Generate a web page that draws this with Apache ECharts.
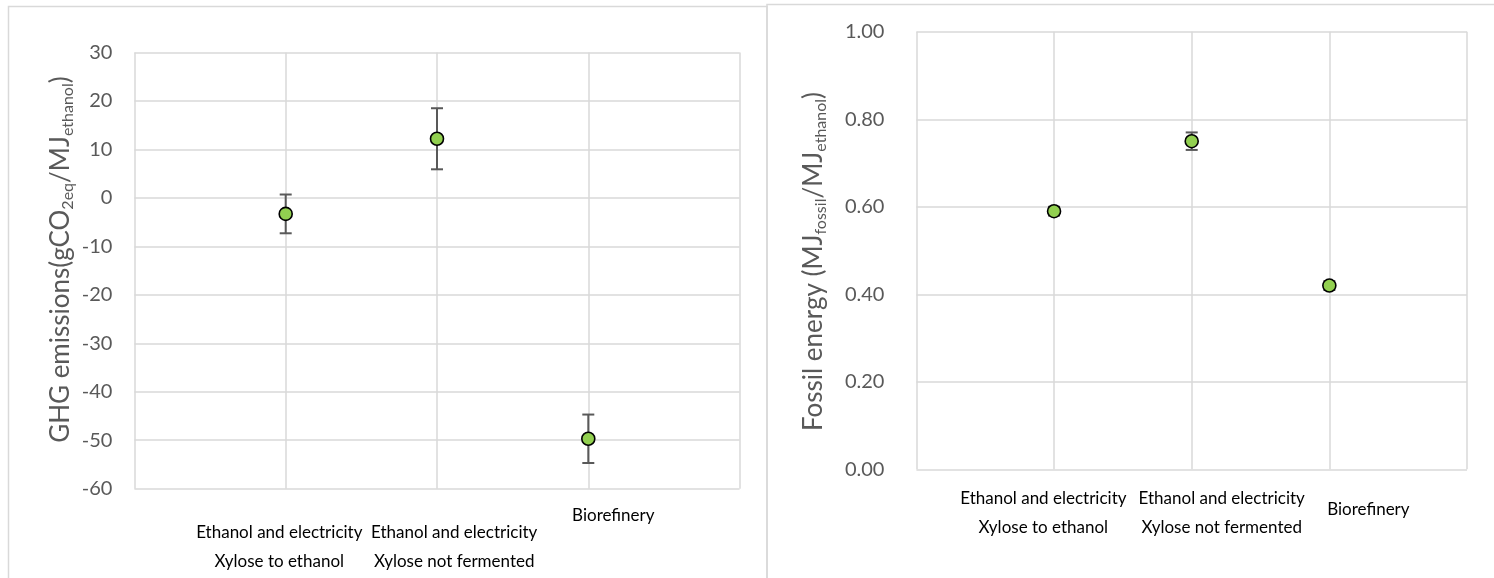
<!DOCTYPE html>
<html>
<head>
<meta charset="utf-8">
<script src="https://cdn.jsdelivr.net/npm/echarts@6/dist/echarts.min.js"></script>
<style>
  html, body { margin: 0; padding: 0; background: #ffffff; }
  #chart { width: 1494px; height: 578px; }
</style>
</head>
<body>
<div id="chart"></div>
<script>
// Scenario names (two-line names use "\n")
const categories = [
  'Ethanol and electricity\nXylose to ethanol',
  'Ethanol and electricity\nXylose not fermented',
  'Biorefinery'
];
// Position of each scenario on the horizontal 0..4 scale
const categoryX = [1, 2, 3];

// GHG emissions, gCO2eq per MJ ethanol, with error half-widths
const ghgValues = [-3.3, 12.2, -49.7];
const ghgErrors = [4.0, 6.3, 5.0];

// Fossil energy use, MJ fossil per MJ ethanol, with error half-widths
const fossilValues = [0.59, 0.75, 0.42];
const fossilErrors = [0.01, 0.02, 0.01];

// Y scale ranges
const ghgRange = { min: -60, max: 30, step: 10 };
const fossilRange = { min: 0, max: 1, step: 0.2 };

const FONT = 'Lato, "Open Sans", sans-serif';
const GRID = '#d9d9d9';
const TICK = '#595959';
const CAT_SIZE = 17;

// Label text box styles per panel: horizontal nudge (dx), line height,
// and an optional blank leading line to push a label further down.
const labelLook = [
  { lh: 28.4, items: [ { dx: -6.4, lead: 17 }, { dx: 17.2, lead: 17 }, { dx: 25, lead: 0 } ] },
  { lh: 29,   items: [ { dx: -10.7, lead: 0 }, { dx: 30, lead: 0 }, { dx: 39, lead: 10.5 } ] }
];

function makeRich(panel) {
  const look = labelLook[panel];
  const rich = {};
  look.items.forEach((it, i) => {
    const pad = it.dx >= 0 ? [0, 0, 0, 2 * it.dx] : [0, -2 * it.dx, 0, 0];
    rich['c' + i] = { fontSize: CAT_SIZE, lineHeight: look.lh, padding: pad, fontFamily: FONT, color: '#000' };
    rich['g' + i] = { fontSize: 4, lineHeight: Math.max(it.lead, 0.1), fontFamily: FONT, color: 'rgba(0,0,0,0)' };
  });
  return rich;
}

function makeFormatter(panel) {
  return function (value) {
    const i = categoryX.indexOf(value);
    if (i < 0) return '';
    const it = labelLook[panel].items[i];
    const body = categories[i].split('\n').map(s => '{c' + i + '|' + s + '}').join('\n');
    return it.lead > 0 ? '{g' + i + '| }\n' + body : body;
  };
}

function xAxisFor(panel, margin) {
  return {
    type: 'value', gridIndex: panel, min: 0, max: 4, interval: 1,
    axisLine: { show: false }, axisTick: { show: false },
    splitLine: { show: true, lineStyle: { color: GRID, width: 1.5 } },
    axisLabel: {
      margin, formatter: makeFormatter(panel), color: '#000', fontFamily: FONT,
      fontSize: CAT_SIZE, rich: makeRich(panel)
    }
  };
}

function nameRich() {
  return {
    m: { fontSize: 26, lineHeight: 30, fontFamily: FONT, color: TICK, verticalAlign: 'middle' },
    s: { fontSize: 16, lineHeight: 14, fontFamily: FONT, color: TICK, verticalAlign: 'bottom' },
    p: { width: 22, lineHeight: 30 }
  };
}

function errorBars(axisIndex, values, errors) {
  return {
    type: 'custom', xAxisIndex: axisIndex, yAxisIndex: axisIndex, z: 3, silent: true,
    data: categoryX.map((x, i) => [x, values[i] - errors[i], values[i] + errors[i]]),
    encode: { x: 0, y: [1, 2] },
    renderItem: function (params, api) {
      const lo = api.coord([api.value(0), api.value(1)]);
      const hi = api.coord([api.value(0), api.value(2)]);
      const hw = 6;
      const style = { stroke: '#595959', lineWidth: 2 };
      return {
        type: 'group',
        children: [
          { type: 'line', shape: { x1: lo[0], y1: lo[1], x2: hi[0], y2: hi[1] }, style },
          { type: 'line', shape: { x1: lo[0] - hw, y1: lo[1], x2: lo[0] + hw, y2: lo[1] }, style },
          { type: 'line', shape: { x1: hi[0] - hw, y1: hi[1], x2: hi[0] + hw, y2: hi[1] }, style }
        ]
      };
    }
  };
}

function points(axisIndex, values) {
  return {
    type: 'scatter', xAxisIndex: axisIndex, yAxisIndex: axisIndex, z: 5, silent: true,
    symbol: 'circle', symbolSize: 13,
    itemStyle: { color: '#92D050', borderColor: '#000', borderWidth: 1.6, opacity: 1 },
    data: categoryX.map((x, i) => [x, values[i]])
  };
}

const chart = echarts.init(document.getElementById('chart'), null, { renderer: 'canvas' });

chart.setOption({
  animation: false,
  backgroundColor: '#ffffff',
  graphic: [
    { type: 'rect', shape: { x: 8.5, y: 6.5, width: 758.5, height: 620 },
      style: { fill: 'none', stroke: GRID, lineWidth: 1.5 }, silent: true },
    { type: 'rect', shape: { x: 767, y: 4.5, width: 760, height: 620 },
      style: { fill: 'none', stroke: GRID, lineWidth: 1.5 }, silent: true }
  ],
  grid: [
    { left: 134.4, top: 52.5, width: 605.2, height: 436.2 },
    { left: 916.4, top: 31.8, width: 550.6, height: 437.5 }
  ],
  xAxis: [ xAxisFor(0, 13), xAxisFor(1, 15) ],
  yAxis: [
    {
      type: 'value', gridIndex: 0, min: ghgRange.min, max: ghgRange.max, interval: ghgRange.step,
      axisLine: { show: false }, axisTick: { show: false },
      splitLine: { show: true, lineStyle: { color: GRID, width: 1.5 } },
      axisLabel: { margin: 22, color: TICK, fontFamily: FONT, fontSize: 20 },
      // leading spacer lifts the title slightly above the plot centre
      name: '{p|}{m|GHG emissions(gCO}{s|2eq}{m|/MJ}{s|ethanol}{m|)}',
      nameLocation: 'middle', nameRotate: 90, nameGap: 59,
      nameTextStyle: { rich: nameRich() }
    },
    {
      type: 'value', gridIndex: 1, min: fossilRange.min, max: fossilRange.max, interval: fossilRange.step,
      axisLine: { show: false }, axisTick: { show: false },
      splitLine: { show: true, lineStyle: { color: GRID, width: 1.5 } },
      axisLabel: { margin: 32, color: TICK, fontFamily: FONT, fontSize: 20,
        formatter: v => v.toFixed(2) },
      // trailing spacer lowers the title slightly below the plot centre
      name: '{m|Fossil energy (MJ}{s|fossil}{m|/MJ}{s|ethanol}{m|)}{p|}',
      nameLocation: 'middle', nameRotate: 90, nameGap: 88,
      nameTextStyle: { rich: nameRich() }
    }
  ],
  series: [
    errorBars(0, ghgValues, ghgErrors),
    points(0, ghgValues),
    errorBars(1, fossilValues, fossilErrors),
    points(1, fossilValues)
  ]
});
</script>
</body>
</html>
